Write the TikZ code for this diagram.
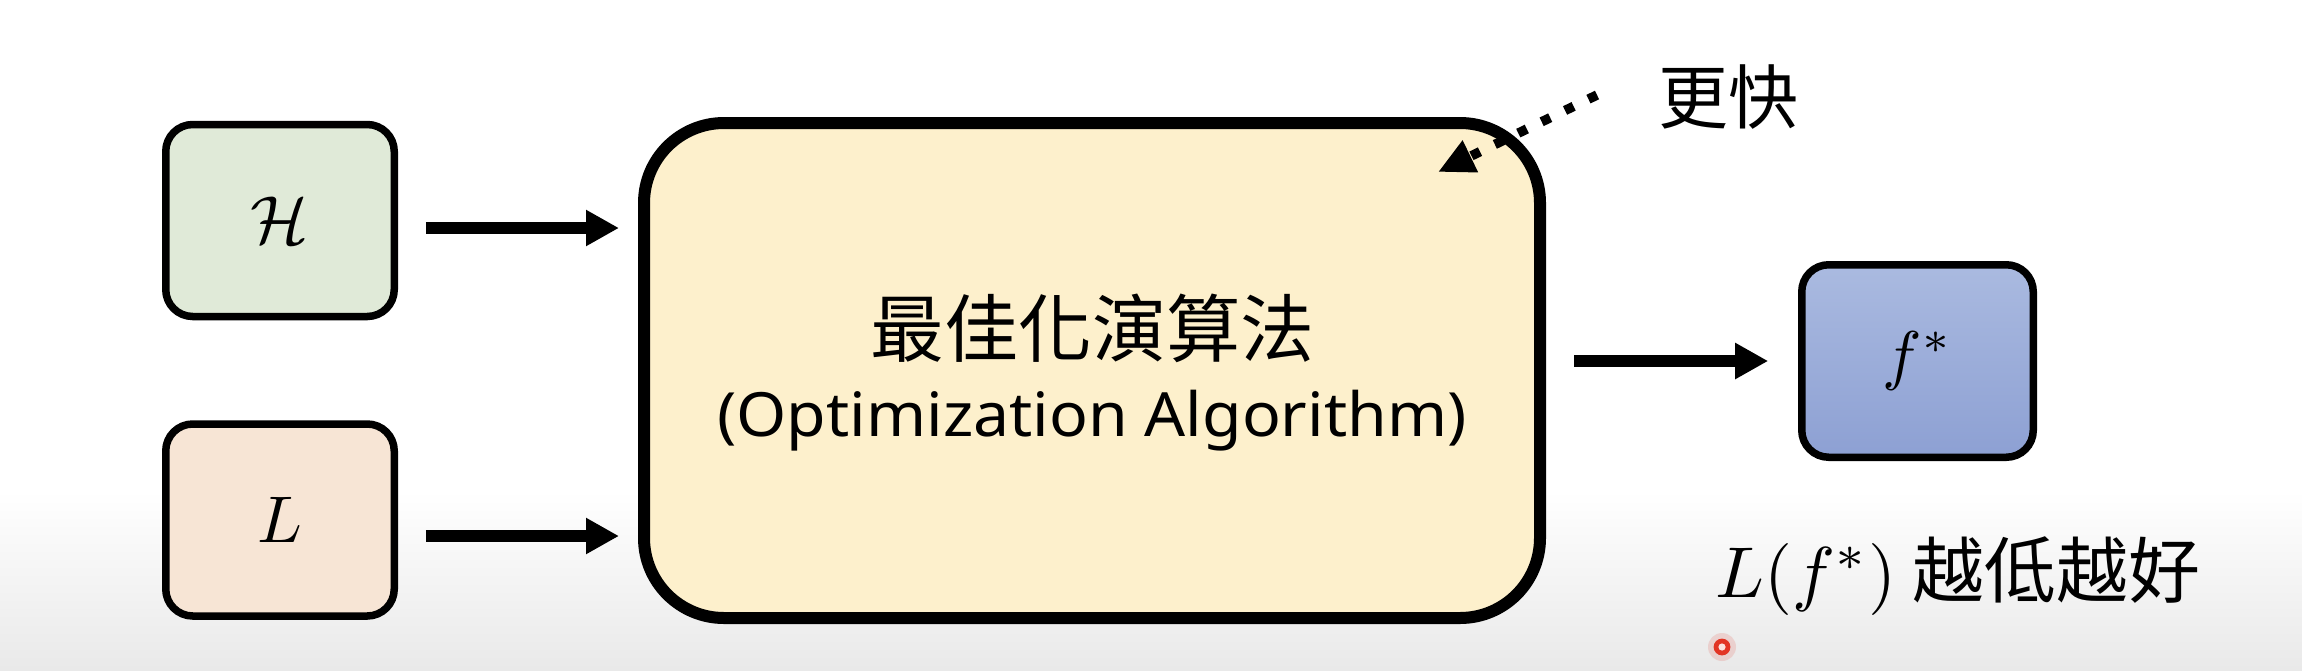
\documentclass[tikz,border=0pt]{standalone}
\usepackage{fontspec}
\usepackage{graphicx}
\newfontfamily\cjk{Noto Sans CJK TC}
\newfontfamily\latinsans{Noto Sans}
\usetikzlibrary{arrows.meta,calc}
\definecolor{hfill}{RGB}{224,234,216}
\definecolor{lfill}{RGB}{247,229,213}
\definecolor{bigfill}{RGB}{253,240,204}
\definecolor{ftop}{RGB}{170,186,224}
\definecolor{fbot}{RGB}{141,160,211}
\definecolor{bggray}{RGB}{233,233,233}
\definecolor{laser}{RGB}{226,52,36}
\newcommand{\bigmath}[2]{\scalebox{#1}{\fontsize{10}{12}\selectfont$#2$}}
\begin{document}
\begin{tikzpicture}[x=0.5pt,y=-0.5pt,
  smallbox/.style={draw=black, line width=3.75pt, rounded corners=13.5pt,
    inner sep=0pt, minimum width=114.25pt, minimum height=96pt},
  bigbox/.style={draw=black, line width=6pt, rounded corners=40pt,
    inner sep=0pt, minimum width=448pt, minimum height=247.5pt, fill=bigfill},
  flow/.style={line width=6pt, -{Triangle[length=16.5pt,width=17pt]}},
  dotarrow/.style={line width=4.75pt, dash pattern=on 4.75pt off 8.25pt,
    -{Triangle[length=18pt,width=16.5pt]}},
  cjklabel/.style={inner sep=0pt, font=\cjk\fontsize{36}{42}\selectfont}
]
\useasboundingbox (0,0) rectangle (2302,670);
% background
\fill[white] (0,0) rectangle (2302,670);
\shade[top color=white, bottom color=bggray] (0,490) rectangle (2302,670);

% boxes
\node[smallbox, fill=hfill] (H) at (280,220.5) {\bigmath{3.4}{\mathcal{H}}};
\node[smallbox, fill=lfill] (L) at (280,520) {\bigmath{3.3}{L}};
\node[bigbox] (big) at (1092,370.5) {};
\node[smallbox, minimum width=115.75pt, minimum height=96.25pt,
      top color=ftop, bottom color=fbot] (fstar) at (1917.5,361) {\bigmath{3.3}{f^*}};

% texts in the big box
\node[inner sep=0pt, anchor=base, font=\cjk\fontsize{37}{44}\selectfont]
  (title) at ($(big.center)+(0,-14)$) {最佳化演算法};
\node[inner sep=0pt, anchor=base, font=\latinsans\fontsize{30.5}{36}\selectfont]
  (subtitle) at ($(big.center)+(0,66)$) {\scalebox{1.055}[1]{(Optimization Algorithm)}};

% connectors
\draw[flow] ([xshift=13.9pt,yshift=-3.75pt]H.east) -- ([xshift=-9.5pt,yshift=-3.75pt]H.east -| big.west);
\draw[flow] ([xshift=13.9pt,yshift=-8pt]L.east) -- ([xshift=-9.5pt,yshift=-8pt]L.east -| big.west);
\draw[flow] ([xshift=14pt]big.east |- fstar.west) -- ([xshift=-14.9pt]fstar.west);

% faster annotation
\node[cjklabel, font=\cjk\fontsize{35}{42}\selectfont, anchor=base] (faster) at (1728,123) {更快};
\coordinate (dstart) at (1597,95);
\coordinate (dtip) at (1438,172);
\draw[dotarrow] (dstart) -- (dtip);

% result annotation
\node[inner sep=0pt, anchor=base west, font=\cjk\fontsize{36}{42}\selectfont]
  (result) at (1715,597) {\bigmath{3.6}{L(f^*)} 越低越好};

% laser pointer
\fill[laser, opacity=0.15] (1722,647) circle[radius=7pt];
\fill[laser] (1722,647) circle[radius=4.2pt];
\fill[white!85!laser] (1722,647) circle[radius=1.8pt];
\end{tikzpicture}
\end{document}
